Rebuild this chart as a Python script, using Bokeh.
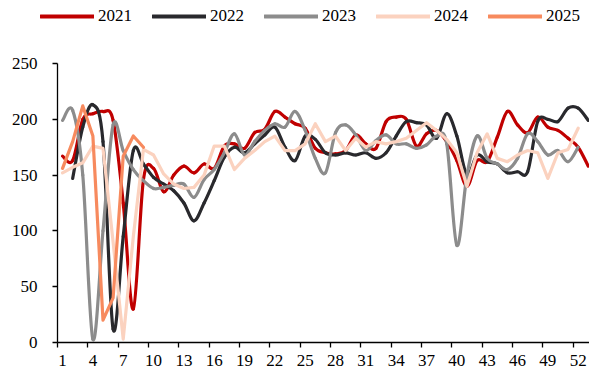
import math
from bokeh.plotting import figure
from bokeh.layouts import column
from bokeh.models import Range1d, FixedTicker, Legend, LegendItem, ColumnDataSource
from bokeh.embed import file_html
from bokeh.resources import INLINE

NA = None

weeks = list(range(1, 54))
tick_weeks = list(range(1, 53, 3))
y_ticks = [0, 50, 100, 150, 200, 250]

y2021 = [167, 163, 200, 205, 207, 199, 125, 30, 146, 156,
         135, 150, 158, 152, 160, 156, 176, 178, 174, 188,
         191, 207, 202, 196, 192, 174, 170, 169, 172, 186,
         178, 174, 198, 202, 200, 176, 187, 190, 180, 163,
         140, 163, 162, 184, 207, 195, 188, 202, 193, 190,
         183, 175, 158]
y2022 = [NA, 147, 193, 213, 180, 12, 95, 172, 160, 148,
         142, 136, 125, 109, 125, 145, 166, 175, 170, 178,
         186, 193, 175, 163, 185, 182, 170, 168, 170, 168,
         170, 165, 170, 185, 198, 197, 195, 183, 205, 185,
         150, 168, 162, 160, 152, 153, 153, 198, 200, 198,
         210, 210, 199]
y2023 = [199, 208, 150, 3, 100, 195, 172, 155, 145, 138,
         139, 141, 142, 130, 146, 155, 170, 187, 168, 180,
         190, 196, 193, 207, 190, 165, 152, 188, 195, 186,
         172, 181, 186, 178, 178, 174, 177, 185, 178, 87,
         150, 185, 165, 160, 155, 165, 187, 180, 168, 172,
         162, 175, NA]
y2024 = [152, 157, 161, 176, 174, 90, 3, 95, 173, 168,
         151, 142, 138, 139, 150, 176, 176, 155, 165, 172,
         180, 185, 172, 172, 178, 196, 180, 185, 172, 183,
         175, 180, 178, 180, 183, 190, 197, 190, 182, 170,
         140, 170, 187, 165, 162, 168, 172, 170, 147, 170,
         173, 192, NA]
y2025 = [156, 180, 212, 185, 20, 40, 167, 185, 175] + [NA] * 44

COLORS = {
    "2021": "#C00000",
    "2022": "#29292D",
    "2023": "#8C8C8C",
    "2024": "#FBD2BF",
    "2025": "#F78A5E",
}
FONT = "Liberation Serif"
LW = 3.2
W = 589
LEGEND_H = 34
LEFT = 57


def smooth_source(xs, ys):
    """Cubic Bezier segments (Catmull-Rom style control points) through the points."""
    pts = [(x, y) for x, y in zip(xs, ys) if y is not None]
    cols = {k: [] for k in ("x0", "y0", "x1", "y1", "cx0", "cy0", "cx1", "cy1")}
    n = len(pts)
    for i in range(n - 1):
        p0 = pts[i - 1] if i > 0 else pts[i]
        p1 = pts[i]
        p2 = pts[i + 1]
        p3 = pts[i + 2] if i + 2 < n else pts[i + 1]
        cols["x0"].append(p1[0]); cols["y0"].append(p1[1])
        cols["x1"].append(p2[0]); cols["y1"].append(p2[1])
        cols["cx0"].append(p1[0] + (p2[0] - p0[0]) / 6)
        cols["cy0"].append(p1[1] + (p2[1] - p0[1]) / 6)
        cols["cx1"].append(p2[0] - (p3[0] - p1[0]) / 6)
        cols["cy1"].append(p2[1] - (p3[1] - p1[1]) / 6)
    return ColumnDataSource(cols)


def as_float(ys):
    return [float("nan") if v is None else v for v in ys]


# --- main chart ---
p = figure(width=W, height=378 - LEGEND_H, output_backend="svg",
           toolbar_location=None,
           x_range=Range1d(0.5, 53.12), y_range=Range1d(0, 250),
           min_border_left=LEFT, min_border_right=0, min_border_top=63 - LEGEND_H,
           min_border_bottom=36)
p.frame_align = False
p.xgrid.visible = False
p.ygrid.visible = False
p.outline_line_color = None
p.background_fill_color = "white"
p.border_fill_color = "white"

for name, ys in (("2021", y2021), ("2022", y2022), ("2023", y2023)):
    p.bezier(x0="x0", y0="y0", x1="x1", y1="y1",
             cx0="cx0", cy0="cy0", cx1="cx1", cy1="cy1",
             source=smooth_source(weeks, ys),
             line_color=COLORS[name], line_width=LW, line_cap="round")
for name, ys in (("2024", y2024), ("2025", y2025)):
    p.line(weeks, as_float(ys), line_color=COLORS[name],
           line_width=LW, line_join="round", line_cap="round")

for ax in (p.xaxis[0], p.yaxis[0]):
    ax.axis_line_color = "black"
    ax.axis_line_width = 1.3
    ax.major_label_text_font = FONT
    ax.major_label_text_font_size = "17px"
    ax.major_label_text_color = "black"
    ax.major_tick_line_color = "black"
    ax.minor_tick_line_color = "black"
    ax.major_tick_line_width = 1.3
    ax.minor_tick_line_width = 1.3

p.xaxis.ticker = FixedTicker(ticks=tick_weeks,
                             minor_ticks=[w - 0.5 for w in tick_weeks])
p.xaxis.major_tick_in = 0
p.xaxis.major_tick_out = 0
p.xaxis.minor_tick_in = 0
p.xaxis.minor_tick_out = 5
p.xaxis.major_label_standoff = 7

p.yaxis.ticker = FixedTicker(ticks=y_ticks)
p.yaxis.major_tick_in = 0
p.yaxis.major_tick_out = 5
p.yaxis.minor_tick_out = 0
p.yaxis.minor_tick_in = 0
p.yaxis.major_label_standoff = 15

# --- legend strip across the top, spanning the full width ---
lf = figure(width=W, height=LEGEND_H, output_backend="svg", toolbar_location=None,
            x_range=Range1d(0, 1), y_range=Range1d(0, 1),
            x_axis_location=None, y_axis_location=None,
            min_border_left=0, min_border_right=0,
            min_border_top=0, min_border_bottom=0)
lf.frame_align = False
lf.xgrid.visible = False
lf.ygrid.visible = False
lf.outline_line_color = None
lf.border_fill_color = "white"

nan = float("nan")
items = []
for name in COLORS:
    r = lf.line(x=[nan, nan], y=[nan, nan], line_color=COLORS[name],
                line_width=LW + 0.6, line_cap="round")
    items.append(LegendItem(label=name, renderers=[r]))

legend = Legend(
    items=items, orientation="horizontal", location=(40, 8),
    glyph_width=54, glyph_height=18, label_height=18, label_standoff=4,
    spacing=20, padding=0, margin=0,
    border_line_alpha=0, background_fill_alpha=0,
    label_text_font=FONT, label_text_font_size="17px",
    label_text_color="black",
)
lf.add_layout(legend)

layout = column(lf, p, spacing=0)
open("out.html", "w").write(file_html(layout, INLINE))
